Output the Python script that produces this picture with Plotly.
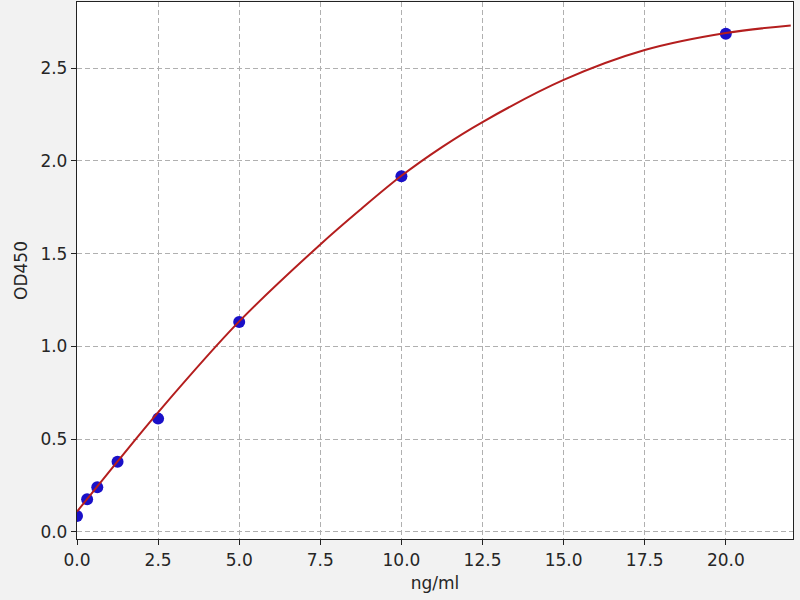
import plotly.graph_objects as go

# standards (ng/ml) and measured OD450
conc = [0, 0.3125, 0.625, 1.25, 2.5, 5, 10, 20]
od = [0.086, 0.176, 0.241, 0.379, 0.611, 1.132, 1.917, 2.686]

# fitted curve
fit_x = [0, 1.25, 2.5, 5, 7.5, 8.75, 10, 11.25, 12.5, 15, 17.5, 20, 22]
fit_y = [0.11, 0.38, 0.645, 1.135, 1.55, 1.74, 1.92, 2.075, 2.21, 2.437, 2.598, 2.69, 2.73]

xticks = [0, 2.5, 5, 7.5, 10, 12.5, 15, 17.5, 20]
yticks = [0, 0.5, 1.0, 1.5, 2.0, 2.5]

fig = go.Figure()
fig.add_trace(go.Scatter(x=conc, y=od, mode="markers",
                         marker=dict(color="#1a10c8", size=12),
                         cliponaxis=True, showlegend=False))
fig.add_trace(go.Scatter(x=fit_x, y=fit_y, mode="lines",
                         line=dict(color="#b41e1e", width=2, shape="spline"),
                         showlegend=False))

axis_style = dict(showline=True, mirror=True, linecolor="#222222", linewidth=1.3,
                  ticks="outside", ticklen=5, tickcolor="#222222",
                  showgrid=True, gridcolor="#b0b0b0", griddash="5px,3px", gridwidth=1,
                  zeroline=False, automargin=False,
                  tickfont=dict(size=17, color="#262626"))

fig.update_xaxes(range=[0, 22.07], tickvals=xticks,
                 ticktext=["%.1f" % v for v in xticks],
                 title=dict(text="ng/ml", font=dict(size=17, color="#262626"), standoff=8),
                 **axis_style)
fig.update_yaxes(range=[-0.038, 2.857], tickvals=yticks,
                 ticktext=["%.1f" % v for v in yticks],
                 title=dict(text="OD450", font=dict(size=17, color="#262626"), standoff=8),
                 **axis_style)

fig.update_layout(width=800, height=600,
                  margin=dict(l=77, r=7, t=2, b=61),
                  paper_bgcolor="#f2f2f2", plot_bgcolor="white",
                  font=dict(family="DejaVu Sans"))

# drop the page's default body margin so the figure sits at the corner
fig.write_html("out.html", config={"displayModeBar": False},
               post_script="document.body.style.margin='0px';")
